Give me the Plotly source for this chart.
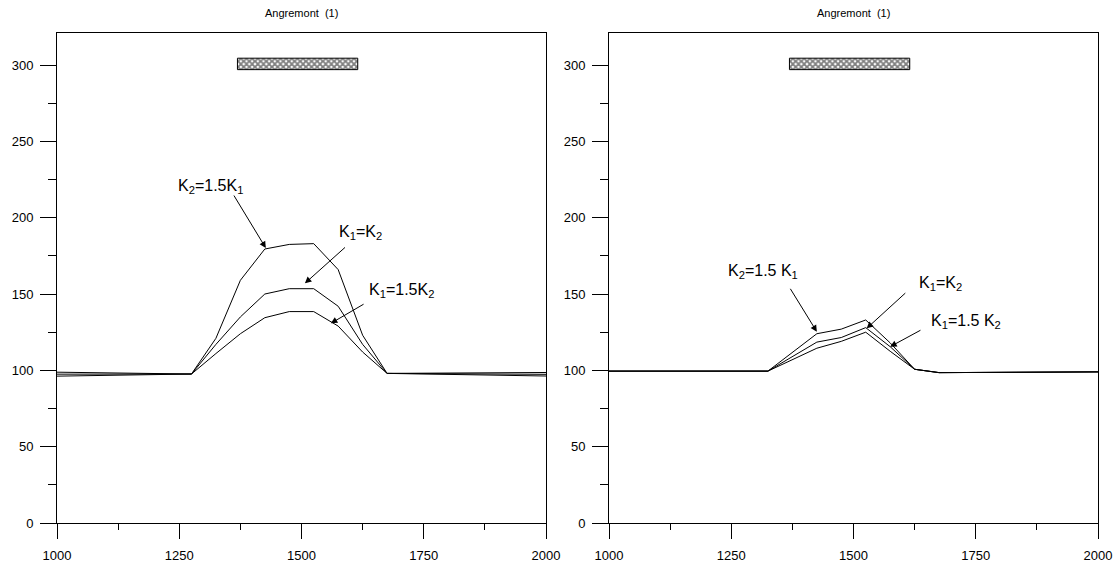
import plotly.graph_objects as go

W, H = 1116, 562

# ---------------- data ----------------
TITLE = "Angremont  (1)"

# left panel
left_x = [1000, 1275, 1325, 1375, 1425, 1475, 1525, 1575, 1625, 1675, 2000]
left_k2_15k1 = [98.8, 97.6, 121, 159, 179.5, 182.5, 183, 166, 123, 98, 98.6]
left_k1_k2 = [97.5, 97.6, 117, 135, 150, 153.5, 153.5, 142, 117, 98, 97.4]
left_k1_15k2 = [96.2, 97.6, 111, 124, 134.5, 138.5, 138.5, 129, 112, 98, 96.3]

# right panel
right_x = [1000, 1325, 1425, 1475, 1525, 1575, 1625, 1675, 2000]
right_k2_15k1 = [99.5, 99.5, 124, 127, 133, 118, 100.7, 98.5, 99]
right_k1_k2 = [99.5, 99.5, 118.5, 121.5, 128, 115.5, 100.7, 98.5, 99]
right_k1_15k2 = [99.5, 99.5, 114.5, 119, 125, 112.5, 100.7, 98.5, 99]

# hatched bar (x extent, y extent)
BAR_X = [1369, 1615]
BAR_Y = [297, 304.5]

# axis ticks
X_TICKS = [1000, 1250, 1500, 1750, 2000]
Y_TICKS = [0, 50, 100, 150, 200, 250, 300]
X_RANGE = [1000, 2000]
Y_RANGE = [0, 321]

# labels: (text, text_x, text_y, tail_x, tail_y, tip_x, tip_y)
left_labels = [
    ("K<sub>2</sub>=1.5K<sub>1</sub>", 1313, 220.5, 1360, 215.5, 1427, 180.1),
    ("K<sub>1</sub>=K<sub>2</sub>", 1620, 190.5, 1592, 181.4, 1507, 157.0),
    ("K<sub>1</sub>=1.5K<sub>2</sub>", 1705, 152, 1630, 143.9, 1560, 130.8),
]
right_labels = [
    ("K<sub>2</sub>=1.5 K<sub>1</sub>", 1315, 165, 1369, 154.4, 1425, 125.3),
    ("K<sub>1</sub>=K<sub>2</sub>", 1677, 157, 1609, 151.5, 1527, 127.5),
    ("K<sub>1</sub>=1.5 K<sub>2</sub>", 1730, 132.3, 1640, 126.8, 1575, 115.5),
]

FONT = "Liberation Sans, Arial, sans-serif"

# ---------------- figure ----------------
fig = go.Figure()

panels = [
    ("x", "y", left_x, [left_k2_15k1, left_k1_k2, left_k1_15k2], left_labels),
    ("x2", "y2", right_x, [right_k2_15k1, right_k1_k2, right_k1_15k2], right_labels),
]

annotations = []
for xa, ya, xs, series, labels in panels:
    for ys in series:
        fig.add_trace(go.Scatter(x=xs, y=ys, mode="lines", xaxis=xa, yaxis=ya,
                                 line=dict(color="black", width=1),
                                 showlegend=False, hoverinfo="skip"))
    bx = [BAR_X[0], BAR_X[1], BAR_X[1], BAR_X[0], BAR_X[0]]
    by = [BAR_Y[0], BAR_Y[0], BAR_Y[1], BAR_Y[1], BAR_Y[0]]
    fig.add_trace(go.Scatter(x=bx, y=by, mode="lines", fill="toself", xaxis=xa, yaxis=ya,
                             line=dict(color="black", width=1),
                             fillcolor="white",
                             fillpattern=dict(shape="x", size=4, solidity=0.7,
                                              fgcolor="black", bgcolor="white"),
                             showlegend=False, hoverinfo="skip"))
    for text, tx, ty, ax_, ay_, px, py in labels:
        annotations.append(dict(x=tx, y=ty, xref=xa, yref=ya, text=text, showarrow=False,
                                font=dict(family=FONT, size=16, color="black")))
        annotations.append(dict(x=px, y=py, xref=xa, yref=ya, ax=ax_, ay=ay_,
                                axref=xa, ayref=ya, text="", showarrow=True,
                                arrowhead=2, arrowsize=1.3, arrowwidth=1,
                                arrowcolor="black", standoff=0, startstandoff=0))

x_dom_l = [57 / W, 546 / W]
x_dom_r = [609 / W, 1098 / W]
y_dom = [39 / H, (H - 33) / H]

for dom in (x_dom_l, x_dom_r):
    annotations.append(dict(x=(dom[0] + dom[1]) / 2, y=(H - 13) / H, xref="paper", yref="paper",
                            xanchor="center", yanchor="middle",
                            text=TITLE, showarrow=False,
                            font=dict(family=FONT, size=11, color="black")))

xcommon = dict(range=X_RANGE, tickvals=X_TICKS, ticks="outside", ticklen=15, tickwidth=1,
               tickcolor="black", showline=True, linecolor="black", linewidth=1, mirror=True,
               showgrid=False, zeroline=False, automargin=False, ticklabelstandoff=5,
               minor=dict(dtick=125, tick0=1000, ticks="outside", ticklen=6,
                          tickcolor="black", showgrid=False),
               tickfont=dict(family=FONT, size=13, color="black"))
ycommon = dict(range=Y_RANGE, tickvals=Y_TICKS, ticks="outside", ticklen=16, tickwidth=1,
               tickcolor="black", showline=True, linecolor="black", linewidth=1, mirror=True,
               showgrid=False, zeroline=False, automargin=False, ticklabelstandoff=4,
               minor=dict(dtick=25, tick0=0, ticks="outside", ticklen=8,
                          tickcolor="black", showgrid=False),
               tickfont=dict(family=FONT, size=13, color="black"))

fig.update_layout(
    width=W, height=H,
    margin=dict(l=0, r=0, t=0, b=0, autoexpand=False),
    paper_bgcolor="white", plot_bgcolor="white",
    xaxis=dict(domain=x_dom_l, anchor="y", **xcommon),
    yaxis=dict(domain=y_dom, anchor="x", **ycommon),
    xaxis2=dict(domain=x_dom_r, anchor="y2", **xcommon),
    yaxis2=dict(domain=y_dom, anchor="x2", **ycommon),
    annotations=annotations,
    showlegend=False,
)

fig.write_html("out.html")
